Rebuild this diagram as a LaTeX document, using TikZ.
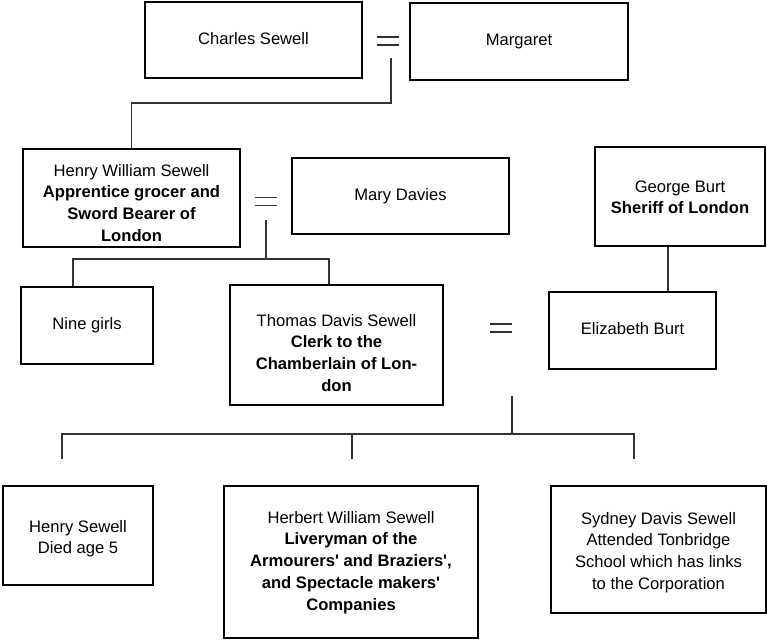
\documentclass[tikz,border=0pt]{standalone}
\usepackage{fontspec}
\setmainfont{Liberation Sans}

\begin{document}
\begin{tikzpicture}[x=1pt, y=-1pt,
  box/.style 2 args={draw, line width=2pt, align=center, inner sep=2pt,
    minimum width=#1pt, minimum height=#2pt,
    font=\fontsize{16.6}{21.7}\selectfont, text height=12pt, text depth=4pt},
  link/.style={draw=black!80, line width=1.5pt}]
  \useasboundingbox (0,0) rectangle (767,641);
  % first generation
  \node[box={217}{76}] (cs) at (253.5,40) {Charles Sewell};
  \node[box={218}{77}] (mar) at (519,41.5) {Margaret};
  % second generation
  \node[box={217}{98}, text height=90.6pt] (hws) at (131.5,198)
    {Henry William Sewell\\ \textbf{Apprentice grocer and}\\ \textbf{Sword Bearer of}\\ \textbf{London}};
  \node[box={217}{76}] (mary) at (400.5,196) {Mary Davies};
  \node[box={170}{99}, text height=38.8pt] (geo) at (680,196.5)
    {George Burt\\ \textbf{Sheriff of London}};
  % third generation
  \node[box={132}{77}] (nine) at (87,325.5) {Nine girls};
  \node[box={213}{120}, text height=96.6pt] (tds) at (336.5,345)
    {Thomas Davis Sewell\\ \textbf{Clerk to the}\\ \textbf{Chamberlain of Lon-}\\ \textbf{don}};
  \node[box={167}{77}] (eliz) at (632.5,330.5) {Elizabeth Burt};
  % fourth generation
  \node[box={150}{99}, text height=40.8pt] (hs) at (78,535.5)
    {Henry Sewell\\ Died age 5};
  \node[box={254}{152}, text height=100pt] (hbw) at (351,562)
    {Herbert William Sewell\\ \textbf{Liveryman of the}\\ \textbf{Armourers\textquotesingle{} and Braziers\textquotesingle,}\\ \textbf{and Spectacle makers\textquotesingle}\\ \textbf{Companies}};
  \node[box={215}{127}, text height=83.6pt] (sds) at (658.5,549.5)
    {Sydney Davis Sewell\\ Attended Tonbridge\\ School which has links\\ to the Corporation};
  % marriages
  \foreach \x/\y in {388/41, 266/201.5, 501/328}
    \draw[link] (\x-11,\y-4) -- (\x+11,\y-4) (\x-11,\y+4) -- (\x+11,\y+4);
  \coordinate (m1) at (391,58);
  \coordinate (m2) at (266,220);
  \coordinate (b2) at (266,259);
  \coordinate (m3) at (512,396);
  \coordinate (b3) at (512,434);
  \coordinate (d1) at (62,459);
  \coordinate (d2) at (352,459);
  \coordinate (d3) at (634,459);
  % descent
  \draw[link] (m1) -- ++(0,45) -| (hws.north);
  \draw[link] (m2) -- (b2);
  \draw[link] (nine.north) ++(-14,0) |- (b2) -| ([xshift=-7.5pt]tds.north);
  \draw[link] (geo.south -| 668,0) -- (eliz.north -| 668,0);
  \draw[link] (m3) -- (b3);
  \draw[link] (d1) |- (b3) -| (d3);
  \draw[link] (d2) -- (d2 |- b3);
\end{tikzpicture}
\end{document}
